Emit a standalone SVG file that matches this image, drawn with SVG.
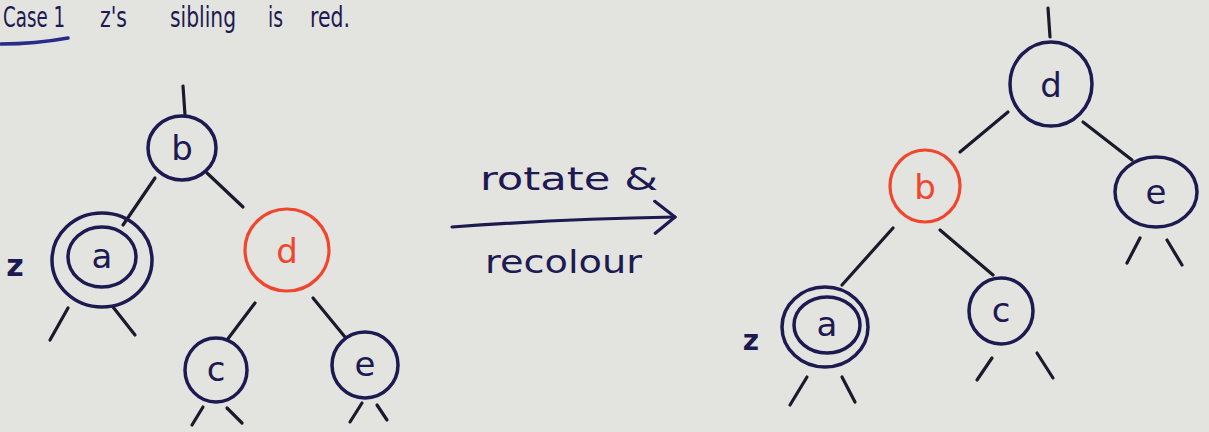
<svg xmlns="http://www.w3.org/2000/svg" width="1209" height="432" viewBox="0 0 1209 432">
<defs>
<style>
.bg{fill:#e3e3df}
.n{fill:none;stroke:#1d1a52;stroke-width:3.5}
.r{fill:none;stroke:#f2452e;stroke-width:3.2}
.e{fill:none;stroke:#1a1a2c;stroke-width:3.2;stroke-linecap:round}
.lb{font-family:"DejaVu Sans",sans-serif;font-size:34px;fill:#1d1a52;text-anchor:middle}
.lr{font-family:"DejaVu Sans",sans-serif;font-size:34px;fill:#f2452e;text-anchor:middle}
.hw{font-family:"DejaVu Sans",sans-serif;fill:#1d1a52}
</style>
<marker id="ah" markerUnits="userSpaceOnUse" markerWidth="30" markerHeight="40" refX="22" refY="18" orient="auto">
<path d="M2,2 L22,18 L2,34" fill="none" stroke="#1d1a52" stroke-width="3.2" stroke-linecap="round" stroke-linejoin="round"/>
</marker>
</defs>
<rect class="bg" x="0" y="0" width="1209" height="432"/>

<g id="heading">
<text class="hw" x="3" y="27" font-size="28" textLength="62" lengthAdjust="spacingAndGlyphs">Case 1</text>
<path d="M1,44 Q35,44 68,38" fill="none" stroke="#2a2a8a" stroke-width="3.5" stroke-linecap="round"/>
<text class="hw" x="100" y="27" font-size="28" textLength="27" lengthAdjust="spacingAndGlyphs">z's</text>
<text class="hw" x="170" y="27" font-size="28" textLength="66" lengthAdjust="spacingAndGlyphs">sibling</text>
<text class="hw" x="268" y="27" font-size="28" textLength="15" lengthAdjust="spacingAndGlyphs">is</text>
<text class="hw" x="310" y="27" font-size="28" textLength="40" lengthAdjust="spacingAndGlyphs">red.</text>
</g>

<g id="connectors">
<!-- left tree -->
<path class="e" d="M183,86 L185,115"/>
<path class="e" d="M155,178 L123,225"/>
<path class="e" d="M207,173 L243,207"/>
<path class="e" d="M255,303 L227,340"/>
<path class="e" d="M313,298 L345,337"/>
<path class="e" d="M68,308 L50,340"/>
<path class="e" d="M113,307 L135,335"/>
<path class="e" d="M203,407 L192,425"/>
<path class="e" d="M227,408 L242,423"/>
<path class="e" d="M362,403 L350,422"/>
<path class="e" d="M377,405 L387,420"/>
<!-- right tree -->
<path class="e" d="M1048,8 L1050,37"/>
<path class="e" d="M1008,112 L960,152"/>
<path class="e" d="M1083,122 L1132,160"/>
<path class="e" d="M893,228 L842,285"/>
<path class="e" d="M940,230 L993,275"/>
<path class="e" d="M1140,238 L1127,263"/>
<path class="e" d="M1167,240 L1182,265"/>
<path class="e" d="M807,377 L790,405"/>
<path class="e" d="M842,377 L855,402"/>
<path class="e" d="M992,358 L977,380"/>
<path class="e" d="M1037,353 L1053,378"/>
<!-- transformation arrow -->
<path d="M452,227 Q560,219 675,217" fill="none" stroke="#1d1a52" stroke-width="3.2" stroke-linecap="round" marker-end="url(#ah)"/>
</g>

<g id="arrow-label">
<text class="hw" x="480" y="190" font-size="32" textLength="178" lengthAdjust="spacingAndGlyphs">rotate &amp;</text>
<text class="hw" x="485" y="273" font-size="32" textLength="157" lengthAdjust="spacingAndGlyphs">recolour</text>
</g>

<!-- left tree nodes -->
<g id="L-b">
<ellipse class="n" cx="182" cy="148" rx="34" ry="32"/>
<text class="lb" x="182" y="160">b</text>
</g>
<g id="L-a">
<ellipse class="n" cx="102" cy="260" rx="50" ry="47" stroke-width="4"/>
<ellipse class="n" cx="102" cy="257" rx="34" ry="30"/>
<text class="lb" x="102" y="268">a</text>
<text class="hw" x="15" y="276" font-size="30" font-weight="bold" text-anchor="middle">z</text>
</g>
<g id="L-d">
<ellipse class="r" cx="287" cy="250" rx="42" ry="41"/>
<text class="lr" x="287" y="263">d</text>
</g>
<g id="L-c">
<ellipse class="n" cx="216" cy="370" rx="31" ry="32"/>
<text class="lb" x="216" y="381">c</text>
</g>
<g id="L-e">
<ellipse class="n" cx="365" cy="365" rx="33" ry="33"/>
<text class="lb" x="365" y="376">e</text>
</g>

<!-- right tree nodes -->
<g id="R-d">
<ellipse class="n" cx="1051" cy="84" rx="41" ry="42"/>
<text class="lb" x="1051" y="97">d</text>
</g>
<g id="R-b">
<ellipse class="r" cx="925" cy="186" rx="35" ry="36"/>
<text class="lr" x="925" y="199">b</text>
</g>
<g id="R-e">
<ellipse class="n" cx="1156" cy="192" rx="41" ry="35"/>
<text class="lb" x="1156" y="204">e</text>
</g>
<g id="R-a">
<ellipse class="n" cx="825" cy="327" rx="43" ry="40" stroke-width="4"/>
<ellipse class="n" cx="827" cy="325" rx="33" ry="28"/>
<text class="lb" x="827" y="336">a</text>
<text class="hw" x="751" y="350" font-size="28" font-weight="bold" text-anchor="middle">z</text>
</g>
<g id="R-c">
<ellipse class="n" cx="1001" cy="311" rx="32" ry="33"/>
<text class="lb" x="1001" y="322">c</text>
</g>
</svg>
